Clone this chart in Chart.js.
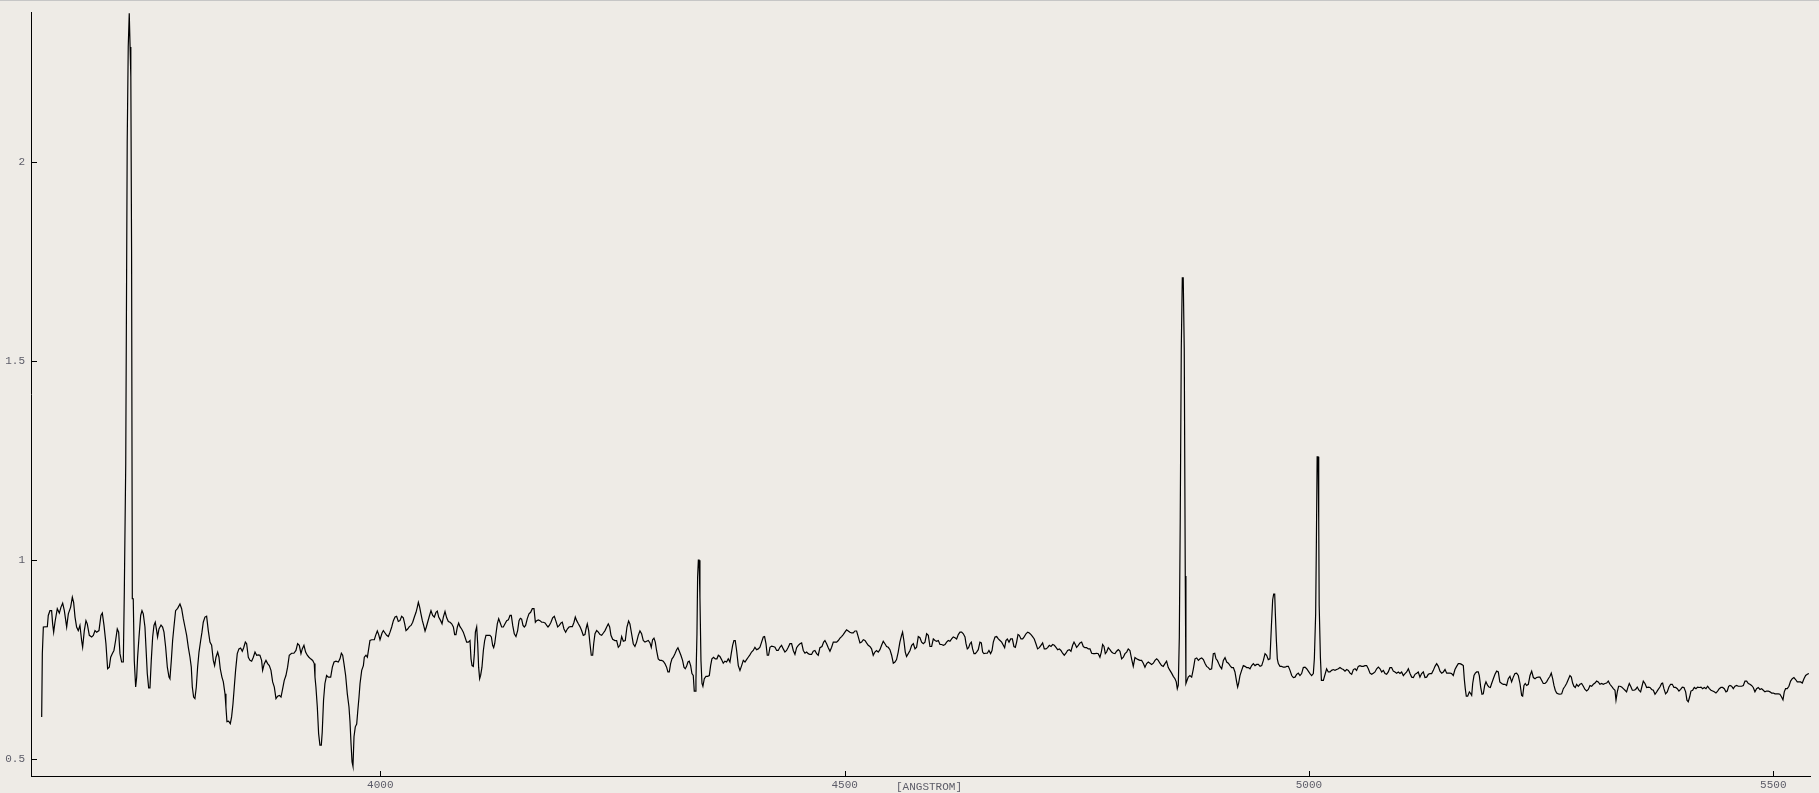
<!DOCTYPE html>
<html>
<head>
<meta charset="utf-8">
<script src="https://cdn.jsdelivr.net/npm/chart.js@4.4.1/dist/chart.umd.min.js"></script>
<style>
html,body{margin:0;padding:0;background:#EEEBE6;overflow:hidden;}
#wrap{width:1819px;height:793px;position:relative;}
canvas{display:block;}
</style>
</head>
<body>
<div id="wrap"><canvas id="c" width="1819" height="793"></canvas></div>
<script>
// Wavelength (Angstrom)
const wavelength = [
3635.4,3636.1,3637.2,3641.5,3642.5,3644.3,3646.1,3647.2,3648.3,3649.7,3652.2,3654.4,3656.2,3658.0,3659.8,3662.3,3664.1,3666.6,3668.4,3669.8,
3671.3,3673.0,3674.8,3676.6,3678.4,3679.5,3681.3,3683.1,3684.5,3686.7,3689.2,3691.0,3692.8,3694.6,3697.1,3699.2,3700.7,3702.5,3704.6,3706.4,
3708.2,3709.7,3711.4,3713.2,3715.0,3716.8,3718.3,3719.7,3721.5,3723.3,3724.4,3725.9,3727.5,3728.6,3729.7,3730.6,3731.4,3732.2,3733.0,3734.0,
3735.1,3736.6,3737.7,3738.7,3740.2,3742.0,3743.4,3744.8,3746.6,3747.7,3749.1,3750.6,3752.0,3753.4,3754.9,3756.3,3757.7,3759.2,3760.2,3761.7,
3763.9,3765.6,3767.1,3768.9,3770.7,3772.5,3773.5,3775.0,3776.4,3777.8,3779.6,3781.8,3784.3,3786.1,3787.9,3789.7,3791.5,3793.3,3795.1,3796.5,
3797.6,3799.0,3800.4,3801.9,3803.3,3804.8,3806.6,3808.0,3809.4,3811.2,3813.0,3814.8,3816.6,3818.4,3820.2,3821.6,3823.1,3824.9,3826.3,3827.7,
3829.5,3831.0,3832.8,3833.8,3834.9,3836.7,3838.5,3839.9,3841.4,3842.8,3844.2,3846.0,3847.8,3849.6,3851.4,3852.9,3854.7,3856.1,3857.9,3859.7,
3861.5,3863.3,3865.1,3866.9,3868.6,3870.4,3872.2,3873.3,3875.1,3876.9,3878.7,3880.5,3882.3,3884.1,3885.9,3887.7,3889.5,3891.3,3893.1,3894.9,
3896.6,3898.4,3900.2,3902.0,3904.5,3907.0,3909.2,3911.0,3912.8,3914.6,3916.0,3917.8,3919.6,3921.4,3923.2,3925.0,3927.2,3928.9,3929.7,3930.7,
3932.2,3933.6,3935.0,3936.5,3937.5,3938.9,3940.4,3942.2,3944.0,3944.8,3946.6,3948.4,3950.2,3952.3,3954.8,3956.6,3958.1,3959.5,3960.9,3962.7,
3964.5,3966.3,3967.4,3968.5,3969.6,3970.6,3971.7,3973.1,3974.6,3975.7,3977.1,3978.2,3980.0,3981.8,3982.8,3984.6,3986.1,3987.5,3988.9,3990.7,
3993.6,3995.0,3996.8,3998.3,3999.7,4001.9,4003.3,4005.1,4006.9,4008.7,4010.5,4012.3,4014.1,4015.9,4017.6,4019.4,4021.2,4023.0,4024.8,4026.3,
4027.7,4029.5,4031.3,4033.1,4034.9,4036.7,4038.5,4039.9,4041.0,4042.4,4043.8,4045.3,4046.7,4048.2,4049.6,4051.0,4052.8,4054.6,4056.4,4058.2,
4060.0,4061.4,4062.9,4065.0,4066.5,4067.9,4069.7,4071.5,4073.3,4075.1,4076.9,4078.7,4080.1,4081.5,4083.0,4084.4,4085.8,4087.6,4089.4,4091.2,
4093.0,4094.8,4096.6,4097.7,4098.8,4100.2,4101.3,4102.4,4103.8,4104.9,4105.9,4107.0,4108.1,4109.5,4111.0,4112.4,4113.8,4115.6,4118.1,4119.6,
4121.0,4122.1,4123.2,4124.6,4126.0,4127.5,4128.9,4130.7,4132.5,4134.3,4136.1,4137.9,4139.7,4141.1,4142.6,4144.3,4146.1,4147.9,4149.4,4150.8,
4152.2,4153.7,4155.1,4156.5,4158.3,4160.1,4161.9,4163.7,4165.5,4167.0,4168.4,4170.2,4172.0,4173.8,4175.6,4177.4,4179.2,4180.6,4182.0,4183.8,
4185.6,4187.4,4189.2,4191.0,4192.8,4194.6,4196.0,4197.8,4199.6,4201.4,4203.2,4205.0,4206.8,4208.6,4210.0,4211.5,4213.3,4215.0,4216.8,4218.6,
4220.4,4221.5,4222.9,4224.4,4225.8,4227.2,4228.7,4229.8,4231.2,4233.0,4234.8,4236.6,4238.4,4240.2,4242.0,4243.8,4245.5,4247.0,4248.4,4250.2,
4252.7,4254.5,4256.3,4258.1,4259.9,4261.7,4263.8,4265.6,4267.4,4268.8,4270.6,4272.4,4274.2,4276.0,4277.8,4279.6,4281.4,4283.2,4285.0,4286.8,
4288.6,4290.4,4291.8,4293.2,4294.7,4296.1,4297.5,4299.3,4301.1,4302.9,4304.7,4306.5,4308.3,4309.7,4311.2,4312.6,4314.1,4315.5,4317.3,4319.1,
4320.5,4322.0,4323.7,4325.5,4327.0,4328.4,4329.8,4331.3,4332.7,4334.2,4335.6,4337.0,4338.1,4339.2,4339.9,4341.0,4341.7,4342.5,4343.3,4344.2,
4345.3,4346.4,4347.4,4348.9,4350.7,4352.5,4354.3,4355.7,4357.1,4358.9,4360.7,4362.5,4364.0,4365.7,4367.5,4369.3,4371.1,4372.9,4374.7,4376.5,
4377.9,4379.4,4380.8,4382.2,4383.7,4385.5,4387.3,4389.1,4390.9,4392.7,4394.4,4396.2,4398.0,4399.8,4401.6,4403.4,4405.2,4407.0,4408.8,4410.6,
4412.4,4413.8,4415.3,4416.7,4418.1,4419.6,4421.4,4423.2,4425.0,4426.8,4428.5,4430.3,4432.1,4433.9,4435.7,4437.5,4439.3,4441.1,4442.9,4444.7,
4446.5,4448.3,4450.1,4451.9,4453.7,4455.5,4457.3,4459.1,4460.8,4462.6,4464.4,4466.2,4468.0,4469.8,4471.6,4473.4,4475.6,4477.4,4478.8,4480.6,
4482.4,4484.2,4486.0,4487.8,4489.6,4491.4,4493.2,4495.0,4496.7,4498.5,4500.3,4502.1,4503.9,4505.7,4507.5,4509.3,4511.1,4512.9,4514.7,4516.5,
4518.3,4520.1,4521.9,4523.6,4525.4,4527.2,4529.0,4530.8,4532.6,4534.4,4536.2,4538.0,4539.8,4541.6,4543.4,4545.2,4547.0,4548.8,4550.6,4552.4,
4554.2,4555.9,4557.7,4559.5,4561.3,4562.4,4563.8,4565.3,4566.7,4568.5,4570.4,4572.2,4574.0,4575.8,4577.5,4579.3,4581.1,4582.9,4584.7,4586.5,
4588.3,4590.1,4591.9,4593.7,4595.5,4597.3,4599.1,4600.9,4602.7,4604.5,4606.3,4608.1,4609.8,4611.6,4613.4,4615.2,4617.0,4618.8,4620.6,4622.4,
4624.2,4626.0,4627.8,4629.6,4630.7,4632.1,4633.5,4635.0,4636.4,4637.8,4639.3,4640.7,4642.1,4643.9,4645.7,4647.2,4648.6,4650.0,4651.8,4653.6,
4655.4,4657.2,4658.7,4660.1,4661.9,4663.7,4665.5,4667.3,4669.1,4670.9,4672.3,4673.7,4675.2,4677.0,4678.8,4680.6,4682.3,4683.8,4685.2,4686.7,
4688.1,4689.9,4691.7,4693.5,4695.3,4697.1,4698.9,4700.7,4702.4,4704.2,4706.0,4707.8,4709.6,4711.4,4713.2,4715.0,4716.8,4718.6,4720.4,4722.2,
4724.0,4725.8,4727.6,4729.4,4731.2,4732.9,4734.7,4736.5,4738.3,4740.1,4741.9,4743.7,4745.5,4747.0,4748.4,4749.8,4751.6,4753.4,4755.2,4757.0,
4758.8,4760.6,4762.4,4764.2,4766.0,4767.8,4769.6,4771.4,4773.1,4774.9,4776.4,4777.8,4779.3,4780.7,4782.1,4783.9,4785.7,4787.5,4789.3,4791.1,
4792.9,4794.7,4796.5,4798.3,4800.1,4801.9,4803.7,4805.4,4807.2,4809.0,4810.8,4812.6,4814.4,4816.2,4818.0,4819.8,4821.6,4823.4,4825.2,4827.0,
4828.8,4830.6,4832.4,4834.2,4836.0,4837.7,4839.5,4841.3,4843.1,4844.9,4846.7,4848.5,4850.3,4852.1,4853.9,4855.7,4857.1,4858.2,4859.3,4860.4,
4861.4,4862.5,4863.6,4864.6,4865.7,4866.8,4867.5,4870.0,4871.8,4873.7,4875.5,4877.3,4879.1,4880.9,4882.7,4884.5,4886.3,4888.1,4889.8,4891.6,
4893.4,4895.2,4897.0,4898.5,4899.9,4901.3,4902.8,4904.2,4906.0,4907.8,4909.6,4911.4,4913.2,4915.0,4916.8,4918.6,4920.3,4922.1,4923.2,4924.3,
4925.7,4927.5,4929.3,4931.1,4932.9,4934.7,4936.5,4938.3,4940.1,4941.9,4943.7,4945.5,4947.3,4949.1,4950.9,4952.7,4954.4,4956.2,4958.0,4959.5,
4960.9,4962.0,4963.1,4963.8,4964.9,4965.9,4967.0,4968.8,4970.6,4972.4,4974.2,4976.0,4977.8,4979.6,4981.4,4983.2,4985.0,4986.7,4988.5,4990.3,
4992.1,4993.9,4995.7,4997.5,4999.3,5001.1,5002.9,5004.7,5005.8,5007.2,5008.0,5008.8,5009.8,5010.5,5011.0,5012.3,5013.4,5015.5,5019.0,5020.8,
5022.6,5024.4,5026.2,5028.0,5029.8,5031.6,5033.4,5035.2,5037.0,5038.8,5040.6,5042.4,5044.2,5046.0,5047.8,5049.6,5051.3,5053.1,5054.9,5056.7,
5058.5,5060.3,5062.1,5063.9,5065.7,5067.5,5069.3,5071.1,5072.9,5074.7,5076.5,5078.3,5080.1,5081.9,5083.6,5085.4,5087.2,5089.0,5090.8,5092.6,
5094.4,5096.2,5098.0,5099.8,5101.6,5103.4,5105.2,5107.0,5108.8,5110.6,5112.4,5114.2,5116.0,5117.7,5119.5,5121.3,5123.1,5124.9,5126.7,5128.5,
5130.3,5132.1,5133.9,5135.7,5137.5,5139.3,5141.1,5142.9,5144.7,5146.5,5148.3,5150.1,5151.8,5153.6,5155.4,5157.2,5159.0,5160.8,5162.6,5164.4,
5166.2,5167.3,5168.3,5169.4,5170.9,5172.7,5173.7,5175.2,5176.3,5177.7,5179.1,5180.6,5182.3,5183.4,5184.9,5186.3,5187.7,5189.2,5190.6,5192.4,
5193.8,5195.3,5196.7,5198.5,5200.3,5202.1,5203.9,5205.5,5207.5,5209.3,5211.0,5212.8,5214.6,5216.4,5218.2,5220.0,5221.8,5223.6,5225.4,5227.2,
5229.0,5230.1,5231.5,5232.9,5234.4,5236.2,5238.0,5239.8,5241.6,5243.4,5245.1,5246.9,5248.7,5250.5,5252.3,5254.1,5255.9,5257.7,5259.5,5260.9,
5262.4,5263.8,5265.2,5266.7,5268.5,5270.3,5272.1,5273.9,5275.7,5277.4,5279.2,5281.0,5282.5,5283.9,5285.3,5286.8,5288.2,5290.0,5291.8,5293.6,
5295.4,5297.2,5299.0,5300.8,5302.6,5304.4,5306.2,5308.0,5309.7,5311.5,5313.3,5315.1,5316.9,5318.7,5320.5,5322.3,5324.1,5325.9,5327.7,5329.5,
5330.6,5332.0,5333.4,5334.9,5336.7,5338.5,5340.3,5342.0,5343.5,5344.9,5346.4,5348.2,5350.0,5351.7,5353.5,5355.3,5357.1,5358.6,5360.0,5361.8,
5363.6,5365.4,5367.2,5369.0,5370.8,5372.6,5374.4,5376.1,5377.9,5379.7,5380.8,5382.2,5384.0,5385.8,5387.6,5389.4,5391.2,5393.0,5394.8,5396.6,
5398.4,5400.2,5402.0,5403.8,5405.6,5407.0,5408.4,5409.9,5411.3,5413.1,5414.9,5416.7,5418.5,5420.3,5422.1,5423.9,5425.7,5427.5,5429.3,5431.1,
5432.9,5434.7,5436.4,5438.2,5440.0,5441.8,5443.6,5445.4,5447.2,5449.0,5450.4,5451.9,5453.3,5455.1,5456.9,5458.7,5460.5,5462.3,5464.1,5465.9,
5467.7,5469.5,5471.3,5473.1,5474.8,5476.6,5478.4,5480.2,5482.0,5483.8,5485.6,5487.4,5489.2,5491.0,5492.8,5494.6,5496.4,5498.2,5500.0,5501.8,
5503.6,5505.4,5507.1,5508.9,5510.4,5511.8,5513.2,5515.0,5516.8,5518.6,5520.4,5522.2,5524.0,5525.8,5527.6,5529.4,5531.2,5533.0,5534.8,5536.6,
5538.3
];
// Relative flux
const flux = [
0.606,0.765,0.832,0.833,0.861,0.873,0.873,0.840,0.819,0.844,0.878,0.867,0.882,0.892,0.873,0.832,0.865,0.882,0.907,0.894,
0.857,0.832,0.823,0.836,0.798,0.781,0.823,0.848,0.840,0.811,0.807,0.811,0.823,0.819,0.823,0.861,0.867,0.836,0.790,0.727,
0.731,0.756,0.765,0.773,0.798,0.827,0.819,0.765,0.744,0.744,0.923,1.24,2.05,2.29,2.375,2.29,2.216,1.78,0.903,0.903,
0.748,0.681,0.706,0.756,0.807,0.861,0.873,0.865,0.832,0.781,0.715,0.679,0.679,0.748,0.807,0.836,0.844,0.823,0.807,0.827,
0.837,0.832,0.819,0.781,0.731,0.706,0.702,0.748,0.798,0.832,0.873,0.879,0.890,0.878,0.853,0.832,0.811,0.781,0.756,0.731,
0.681,0.656,0.652,0.681,0.731,0.769,0.798,0.819,0.844,0.857,0.859,0.823,0.794,0.786,0.748,0.735,0.756,0.769,0.756,0.727,
0.706,0.694,0.664,0.631,0.594,0.595,0.589,0.606,0.639,0.681,0.723,0.765,0.777,0.779,0.771,0.780,0.794,0.790,0.756,0.748,
0.746,0.756,0.769,0.761,0.762,0.761,0.748,0.723,0.740,0.748,0.740,0.735,0.723,0.694,0.681,0.652,0.658,0.660,0.656,0.677,
0.698,0.710,0.731,0.761,0.766,0.766,0.773,0.790,0.786,0.765,0.777,0.786,0.769,0.761,0.756,0.752,0.748,0.740,0.706,0.681,
0.631,0.564,0.535,0.535,0.568,0.648,0.690,0.710,0.706,0.706,0.706,0.731,0.744,0.746,0.744,0.752,0.766,0.761,0.740,0.710,
0.664,0.631,0.594,0.539,0.493,0.482,0.556,0.581,0.588,0.619,0.656,0.690,0.723,0.735,0.756,0.761,0.756,0.777,0.798,0.800,
0.800,0.811,0.822,0.813,0.800,0.817,0.823,0.817,0.811,0.808,0.819,0.832,0.848,0.857,0.859,0.846,0.848,0.859,0.855,0.840,
0.823,0.827,0.833,0.836,0.844,0.857,0.869,0.882,0.894,0.882,0.865,0.848,0.836,0.822,0.832,0.844,0.859,0.873,0.861,0.857,
0.869,0.872,0.857,0.848,0.840,0.857,0.871,0.855,0.846,0.844,0.840,0.832,0.813,0.813,0.832,0.842,0.833,0.827,0.819,0.807,
0.794,0.794,0.798,0.752,0.735,0.733,0.765,0.819,0.832,0.790,0.731,0.702,0.711,0.731,0.773,0.798,0.811,0.811,0.811,0.807,
0.786,0.780,0.790,0.815,0.840,0.853,0.844,0.832,0.832,0.840,0.848,0.850,0.861,0.861,0.836,0.815,0.808,0.823,0.848,0.854,
0.852,0.836,0.832,0.836,0.853,0.865,0.869,0.878,0.878,0.844,0.848,0.850,0.848,0.844,0.844,0.842,0.836,0.832,0.836,0.844,
0.855,0.859,0.846,0.832,0.836,0.842,0.844,0.827,0.819,0.827,0.832,0.833,0.833,0.844,0.857,0.848,0.840,0.833,0.823,0.811,
0.813,0.827,0.840,0.823,0.790,0.761,0.761,0.790,0.815,0.823,0.819,0.813,0.811,0.817,0.823,0.832,0.840,0.832,0.811,0.801,
0.798,0.798,0.781,0.786,0.808,0.796,0.798,0.832,0.847,0.840,0.815,0.790,0.783,0.794,0.811,0.822,0.815,0.798,0.794,0.796,
0.798,0.792,0.781,0.800,0.804,0.794,0.773,0.752,0.748,0.748,0.746,0.740,0.731,0.719,0.719,0.740,0.752,0.756,0.765,0.775,
0.780,0.771,0.761,0.748,0.731,0.727,0.733,0.744,0.746,0.735,0.715,0.710,0.671,0.671,0.698,0.815,0.957,1.0,1.0,0.907,
0.748,0.690,0.683,0.702,0.708,0.708,0.710,0.735,0.752,0.756,0.752,0.752,0.761,0.758,0.750,0.741,0.746,0.744,0.752,0.744,
0.765,0.786,0.798,0.798,0.773,0.735,0.723,0.735,0.748,0.744,0.750,0.756,0.762,0.769,0.773,0.781,0.775,0.777,0.781,0.794,
0.807,0.808,0.790,0.761,0.761,0.781,0.784,0.783,0.781,0.773,0.773,0.781,0.786,0.777,0.769,0.773,0.781,0.790,0.790,0.773,
0.763,0.780,0.786,0.790,0.792,0.773,0.766,0.769,0.765,0.763,0.763,0.771,0.773,0.765,0.761,0.780,0.783,0.794,0.798,0.790,
0.780,0.771,0.781,0.794,0.794,0.794,0.798,0.804,0.808,0.813,0.819,0.825,0.822,0.819,0.817,0.817,0.822,0.822,0.807,0.792,
0.794,0.800,0.798,0.792,0.786,0.783,0.777,0.761,0.769,0.773,0.769,0.775,0.786,0.796,0.790,0.783,0.781,0.775,0.761,0.741,
0.744,0.750,0.769,0.794,0.811,0.819,0.798,0.769,0.758,0.765,0.773,0.786,0.790,0.777,0.781,0.808,0.805,0.794,0.790,0.794,
0.815,0.811,0.783,0.783,0.802,0.798,0.796,0.798,0.788,0.788,0.786,0.788,0.794,0.798,0.796,0.802,0.807,0.805,0.802,0.813,
0.819,0.819,0.815,0.807,0.790,0.777,0.780,0.790,0.794,0.777,0.765,0.765,0.769,0.775,0.794,0.792,0.769,0.765,0.766,0.766,
0.773,0.765,0.773,0.794,0.807,0.808,0.802,0.798,0.794,0.786,0.780,0.798,0.802,0.794,0.802,0.802,0.783,0.781,0.794,0.813,
0.811,0.802,0.802,0.808,0.815,0.819,0.817,0.813,0.808,0.802,0.790,0.777,0.780,0.786,0.792,0.777,0.777,0.780,0.786,0.783,
0.788,0.786,0.781,0.775,0.777,0.773,0.766,0.761,0.766,0.773,0.775,0.771,0.786,0.794,0.788,0.781,0.786,0.792,0.794,0.783,
0.780,0.780,0.777,0.777,0.766,0.765,0.765,0.766,0.765,0.756,0.769,0.788,0.783,0.765,0.769,0.780,0.775,0.769,0.766,0.765,
0.771,0.775,0.771,0.752,0.756,0.765,0.769,0.777,0.773,0.752,0.733,0.755,0.752,0.750,0.748,0.748,0.741,0.731,0.740,0.744,
0.741,0.738,0.741,0.748,0.752,0.748,0.741,0.735,0.733,0.740,0.746,0.730,0.723,0.716,0.708,0.702,0.694,0.677,0.686,0.807,
1.11,1.53,1.71,1.71,1.53,0.96,0.690,0.706,0.710,0.706,0.727,0.752,0.754,0.748,0.752,0.754,0.750,0.740,0.733,0.730,
0.725,0.727,0.765,0.766,0.752,0.748,0.740,0.733,0.727,0.748,0.755,0.744,0.741,0.735,0.730,0.730,0.719,0.694,0.681,0.691,
0.710,0.723,0.735,0.733,0.730,0.730,0.727,0.735,0.740,0.735,0.738,0.738,0.733,0.735,0.748,0.765,0.761,0.750,0.752,0.832,
0.900,0.915,0.915,0.865,0.798,0.752,0.740,0.733,0.733,0.731,0.731,0.733,0.733,0.723,0.710,0.705,0.706,0.713,0.716,0.710,
0.715,0.730,0.731,0.727,0.721,0.715,0.710,0.715,0.752,0.865,1.05,1.26,1.26,1.10,0.886,0.756,0.698,0.698,0.727,0.719,
0.719,0.723,0.725,0.723,0.725,0.727,0.730,0.727,0.725,0.721,0.725,0.723,0.716,0.713,0.725,0.727,0.723,0.733,0.735,0.733,
0.733,0.735,0.735,0.727,0.716,0.713,0.716,0.719,0.727,0.731,0.727,0.719,0.723,0.715,0.713,0.719,0.730,0.730,0.721,0.719,
0.716,0.719,0.715,0.719,0.710,0.715,0.719,0.727,0.715,0.706,0.705,0.713,0.716,0.719,0.706,0.715,0.719,0.705,0.706,0.713,
0.715,0.715,0.723,0.733,0.740,0.733,0.721,0.716,0.719,0.725,0.716,0.716,0.716,0.715,0.710,0.725,0.733,0.740,0.740,0.738,
0.735,0.700,0.677,0.658,0.658,0.669,0.666,0.660,0.690,0.710,0.716,0.719,0.719,0.710,0.681,0.663,0.664,0.685,0.694,0.685,
0.681,0.680,0.690,0.702,0.713,0.721,0.719,0.694,0.690,0.688,0.688,0.685,0.702,0.708,0.694,0.706,0.715,0.716,0.710,0.690,
0.660,0.658,0.685,0.690,0.685,0.688,0.710,0.721,0.705,0.702,0.705,0.706,0.706,0.698,0.690,0.690,0.694,0.702,0.708,0.716,
0.702,0.685,0.673,0.666,0.664,0.663,0.664,0.677,0.683,0.690,0.700,0.710,0.706,0.691,0.683,0.680,0.688,0.683,0.688,0.690,
0.683,0.675,0.671,0.675,0.685,0.683,0.688,0.691,0.696,0.694,0.688,0.690,0.688,0.690,0.691,0.696,0.688,0.683,0.677,0.673,
0.648,0.669,0.683,0.683,0.681,0.677,0.673,0.669,0.681,0.690,0.683,0.673,0.673,0.675,0.681,0.673,0.669,0.683,0.696,0.690,
0.680,0.681,0.680,0.675,0.673,0.663,0.669,0.675,0.681,0.690,0.691,0.677,0.664,0.669,0.681,0.688,0.688,0.680,0.680,0.677,
0.671,0.675,0.681,0.680,0.669,0.648,0.644,0.656,0.671,0.673,0.680,0.677,0.681,0.680,0.681,0.677,0.680,0.677,0.683,0.677,
0.673,0.671,0.669,0.666,0.671,0.677,0.680,0.680,0.677,0.669,0.671,0.683,0.685,0.683,0.677,0.683,0.685,0.683,0.683,0.683,
0.685,0.696,0.696,0.690,0.688,0.685,0.680,0.669,0.677,0.680,0.675,0.677,0.673,0.669,0.671,0.671,0.669,0.666,0.666,0.664,
0.664,0.664,0.663,0.656,0.649,0.669,0.677,0.677,0.683,0.696,0.702,0.705,0.700,0.694,0.694,0.694,0.691,0.702,0.710,0.713,
0.715
];
const xTickValues = [4000, 4500, 5000, 5500];
const yTickValues = [0.5, 1, 1.5, 2];
const xAxisLabel = '[ANGSTROM]';

const points = wavelength.map((w, i) => ({x: w, y: flux[i]}));
const labelColor = '#5c5c68';
const monoFont = {family: "'Liberation Mono','DejaVu Sans Mono',monospace", size: 11};

const decor = {
  id: 'decor',
  beforeDraw(chart) {
    const ctx = chart.ctx;
    ctx.save();
    ctx.fillStyle = '#EEEBE6';
    ctx.fillRect(0, 0, chart.width, chart.height);
    ctx.fillStyle = '#c6c6c6';
    ctx.fillRect(0, 0, chart.width, 1);
    ctx.restore();
  },
  afterDraw(chart) {
    const {ctx, chartArea, scales} = chart;
    ctx.save();
    ctx.strokeStyle = '#000';
    ctx.lineWidth = 1;
    ctx.beginPath();
    scales.y.ticks.forEach(t => {
      const py = Math.round(scales.y.getPixelForValue(t.value)) + 0.5;
      ctx.moveTo(chartArea.left, py);
      ctx.lineTo(chartArea.left + 6, py);
    });
    scales.x.ticks.forEach(t => {
      const px = Math.round(scales.x.getPixelForValue(t.value)) + 0.5;
      ctx.moveTo(px, chartArea.bottom);
      ctx.lineTo(px, chartArea.bottom - 5);
    });
    ctx.stroke();
    ctx.fillStyle = labelColor;
    ctx.font = "11px 'Liberation Mono','DejaVu Sans Mono',monospace";
    ctx.textAlign = 'center';
    ctx.textBaseline = 'middle';
    ctx.fillText(xAxisLabel, 929, 787);
    ctx.restore();
  }
};

new Chart(document.getElementById('c'), {
  type: 'line',
  data: {
    datasets: [{
      data: points,
      borderColor: '#000',
      borderWidth: 1.2,
      pointRadius: 0,
      tension: 0,
      fill: false
    }]
  },
  options: {
    responsive: false,
    animation: false,
    devicePixelRatio: 1,
    parsing: false,
    layout: {padding: {top: 10, right: 9, left: 0, bottom: 0}},
    plugins: {legend: {display: false}, tooltip: {enabled: false}},
    scales: {
      x: {
        type: 'linear',
        min: 3623.9,
        max: 5539.5,
        afterBuildTicks: s => { s.ticks = xTickValues.map(v => ({value: v})); },
        afterFit: s => { s.height = 17; },
        grid: {display: false, drawTicks: false},
        border: {display: true, color: '#000', width: 1},
        ticks: {padding: 2, color: labelColor, font: monoFont, maxRotation: 0, autoSkip: false,
                callback: v => String(v)}
      },
      y: {
        type: 'linear',
        min: 0.4574,
        max: 2.3767,
        afterBuildTicks: s => { s.ticks = yTickValues.map(v => ({value: v})); },
        afterFit: s => { s.width = 31; },
        grid: {display: false, drawTicks: false},
        border: {display: true, color: '#000', width: 1},
        ticks: {padding: 6, color: labelColor, font: monoFont, callback: v => String(v)}
      }
    }
  },
  plugins: [decor]
});
</script>
</body>
</html>
